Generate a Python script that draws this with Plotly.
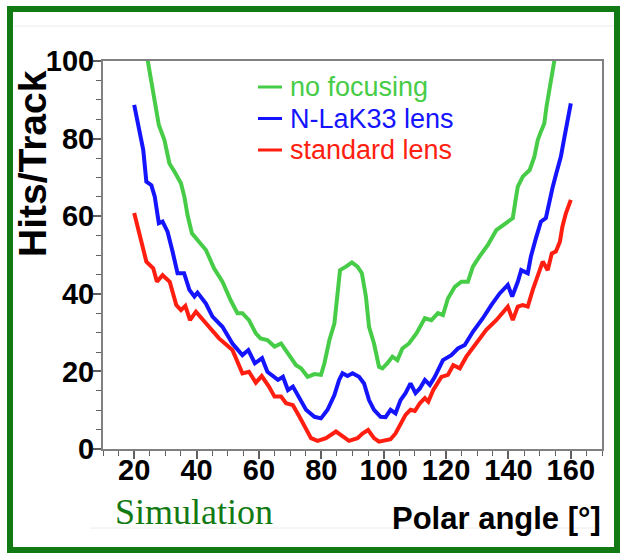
import plotly.graph_objects as go

# ---- data ----
green_angle = [20, 22, 24.3, 24.9, 26, 27, 27.9, 29.7, 31.3, 32.9, 35, 36.1, 37.1, 38.5, 40.9, 43, 45.6, 48.3,
               50.9, 53.1, 54.7, 56.8, 59, 60.5, 62.7, 65, 67.1, 69.3, 71.9, 73.5, 75.6, 77.8, 79.9, 81, 82.6,
               84.2, 85.2, 86, 87.9, 89.8, 91.6, 93, 94.3, 95.3, 96.9, 98.5, 99.6, 101.2, 102.8, 104.4, 106,
               108.1, 110.5, 113.2, 115.3, 117.4, 119, 120.6, 122.8, 124.9, 127, 128.6, 130.7, 133.4, 136.1,
               137.7, 139.8, 141.4, 142.3, 143, 144.6, 146.8, 148.3, 149.4, 150.4, 151.5, 152.2, 153.1, 153.9,
               154.5, 155.5, 157, 160]
green_hits = [118, 109, 100.3, 97.7, 92.5, 88.2, 83.5, 79.6, 73.6, 71.5, 68.5, 65, 60.3, 55.6, 53.4, 51.3, 46.6,
              43.1, 38.4, 35, 35, 33.2, 29.8, 28.5, 28.1, 26.4, 27.2, 24.7, 21.6, 20.8, 18.6, 19.3, 19.1, 22.1,
              28.1, 32.4, 39.3, 46.1, 47, 48.1, 47, 45.3, 39.3, 31.5, 27.2, 21.2, 20.8, 22.1, 23.8, 22.9, 25.9,
              27.2, 29.8, 33.7, 33.2, 35, 34.5, 38.8, 41.8, 43.1, 43.1, 47, 49.6, 52.6, 56.4, 57.3, 58.6, 59.5,
              64.2, 67.6, 70.2, 71.9, 75.3, 79.6, 81.8, 83.9, 88.2, 92.5, 95.1, 99, 104, 112, 125]

blue_angle = [20, 21.3, 22.9, 23.9, 25.5, 26.6, 27.9, 29.1, 30.7, 32.3, 33.9, 36, 37.7, 39.3, 40.3, 43, 45.1,
              48.3, 51.5, 54.7, 56.6, 58.7, 61, 62.7, 65, 66.1, 67.7, 69.3, 70.9, 73, 75.1, 77.8, 79.9, 82,
              84.2, 85.7, 86.8, 88.4, 90, 92.1, 93.7, 95.3, 96.9, 99, 100.6, 102.2, 103.8, 105.4, 107, 108.6,
              110.2, 111.6, 113.2, 114.8, 116.4, 119, 121.7, 123.8, 126, 128.6, 131.8, 134.5, 137.2, 139.8,
              141.2, 143, 144.1, 146.2, 147.2, 148.8, 150.4, 152, 153.1, 154.1, 155.2, 156.8, 157.9, 158.9, 160]
blue_hits = [88.7, 83.1, 77.1, 68.9, 68, 65, 58.2, 58.6, 56, 50.9, 45.3, 45.3, 41, 39.3, 40.3, 37.5, 34.1, 31.5,
             27.2, 24.2, 25.5, 22.1, 23.4, 19.9, 18.6, 17.8, 18.6, 15.2, 16.1, 13.1, 10.1, 8.3, 7.9, 10.1, 13.9,
             17.8, 19.5, 18.8, 19.5, 18.6, 16.9, 12.6, 10.1, 8.3, 8.2, 10.1, 9.2, 12.6, 14.4, 16.9, 14.4, 15.6,
             17.8, 16.5, 18.6, 22.9, 24.2, 25.9, 26.8, 30.2, 33.7, 37.1, 40.1, 42.3, 39.3, 43.1, 46.1, 45.3,
             49.6, 54.3, 58.6, 59.5, 64.2, 67.2, 70.6, 75.3, 80.1, 83.9, 89.1]

red_angle = [20, 21.8, 23.9, 26.1, 27.3, 29.1, 31.4, 33.5, 35, 36.4, 37.9, 39.8, 43, 47.2, 51.5, 54.7, 56.8, 59,
             60.9, 63.2, 65, 67.1, 68.7, 70.9, 73, 75.1, 76.7, 78.8, 81.5, 84.7, 86.8, 88.9, 91.6, 93.2, 95,
             96.9, 98.5, 100.6, 102.2, 103.8, 105.4, 107, 108.6, 110, 111.6, 113.2, 114.3, 115.9, 118.5, 120.6,
             122.3, 124.4, 126.5, 129.7, 132.9, 136.1, 138.2, 139.8, 141.4, 143, 144.6, 146.2, 147.8, 149.4,
             151, 152.6, 153.9, 155.2, 156.5, 157.3, 158.4, 160]
red_hits = [60.8, 54.7, 48.3, 46.6, 43.1, 44.8, 43.1, 37.1, 35.8, 36.9, 33.2, 35.4, 32.4, 28.5, 25.5, 19.5, 19.9,
            17.1, 18.8, 16.1, 13.5, 13.5, 11.8, 11.3, 8.3, 4.9, 2.8, 2.1, 2.8, 4.5, 3.2, 2.1, 2.8, 4, 4.9, 2.8,
            1.9, 2.3, 2.5, 4, 6.6, 8.8, 10.1, 9.8, 11.8, 13.1, 12.2, 15.2, 18.6, 19.1, 21.6, 20.8, 23.8, 27.2,
            30.7, 33.2, 35, 36.7, 33.2, 36.7, 37.1, 36.7, 41, 44.4, 48.3, 46.1, 50.4, 50.9, 53.4, 57.3, 60.7,
            64.2]

series_names = ["no focusing", "N-LaK33 lens", "standard lens"]
series_colors = ["#47cc47", "#1414ff", "#ff1e0f"]

W, H = 623, 554
L, R, T, B = 103, 602, 61, 449  # plot area in pixels


def px_x(p):
    return (p - L) / (R - L)


def px_y(p):
    return (B - p) / (B - T)


fig = go.Figure()
for ang, hits, name, col in zip([green_angle, blue_angle, red_angle],
                                [green_hits, blue_hits, red_hits],
                                series_names, series_colors):
    fig.add_trace(go.Scatter(
        x=ang, y=hits, mode="lines", name=name,
        line=dict(color=col, width=4),
    ))

axis_common = dict(
    showline=True, mirror=True, linecolor="#808080", linewidth=2,
    ticks="outside", ticklen=8, tickwidth=1.5, tickcolor="#606060",
    showgrid=False, zeroline=False,
    tickfont=dict(family="Liberation Sans, Arial", size=29, color="black", weight="bold"),
)

fig.update_xaxes(range=[10, 170], tick0=0, dtick=20, ticklabelstandoff=-14,
                 minor=dict(dtick=5, ticks="outside", ticklen=5, tickcolor="#606060", tickwidth=1.2),
                 **axis_common)
fig.update_yaxes(range=[0, 100], tick0=0, dtick=20, ticklabelstandoff=-7,
                 minor=dict(dtick=5, ticks="outside", ticklen=5, tickcolor="#606060", tickwidth=1.2),
                 **axis_common)

annotations = [
    dict(text="<b>Hits/Track</b>", textangle=-90, xref="paper", yref="paper",
         x=px_x(33), y=px_y(164), xanchor="center", yanchor="middle", showarrow=False,
         font=dict(family="Liberation Sans, Arial", size=39, color="black")),
    dict(text="<b>Polar angle [°]</b>", xref="paper", yref="paper",
         x=px_x(603), y=px_y(518), xanchor="right", yanchor="middle", showarrow=False,
         font=dict(family="Liberation Sans, Arial", size=31, color="black")),
    dict(text="Simulation", xref="paper", yref="paper",
         x=px_x(113), y=px_y(512), xanchor="left", yanchor="middle", showarrow=False,
         font=dict(family="Liberation Serif, Times New Roman, serif", size=36, color="#127a12")),
]

shapes = [
    # outer green frame
    dict(type="rect", xref="paper", yref="paper",
         x0=px_x(10), x1=px_x(617), y0=px_y(550), y1=px_y(9),
         line=dict(color="#127a12", width=6), fillcolor="rgba(0,0,0,0)", layer="above"),
    # faint separator lines of the original slide
    dict(type="line", xref="paper", yref="paper", x0=px_x(14), x1=px_x(614), y0=px_y(26), y1=px_y(26),
         line=dict(color="#ececec", width=1)),
    dict(type="line", xref="paper", yref="paper", x0=px_x(90), x1=px_x(600), y0=px_y(528), y1=px_y(528),
         line=dict(color="#ececec", width=1)),
]

# legend drawn in the style of the original (coloured entries)
legend_rows_y = [87, 118.5, 150]
for name, col, yy in zip(series_names, series_colors, legend_rows_y):
    shapes.append(dict(type="line", xref="paper", yref="paper",
                       x0=px_x(258), x1=px_x(282), y0=px_y(yy), y1=px_y(yy),
                       line=dict(color=col, width=3)))
    annotations.append(dict(text=name, xref="paper", yref="paper",
                            x=px_x(288), y=px_y(yy), xanchor="left", yanchor="middle",
                            showarrow=False,
                            font=dict(family="Liberation Sans, Arial", size=27, color=col)))

fig.update_layout(
    width=W, height=H,
    margin=dict(l=L, r=W - R, t=T, b=H - B, pad=0),
    paper_bgcolor="white", plot_bgcolor="white",
    showlegend=False,
    annotations=annotations,
    shapes=shapes,
)

fig.write_html("out.html",
               config={"displayModeBar": False},
               post_script="document.body.style.margin='0';document.body.style.overflow='hidden';")
